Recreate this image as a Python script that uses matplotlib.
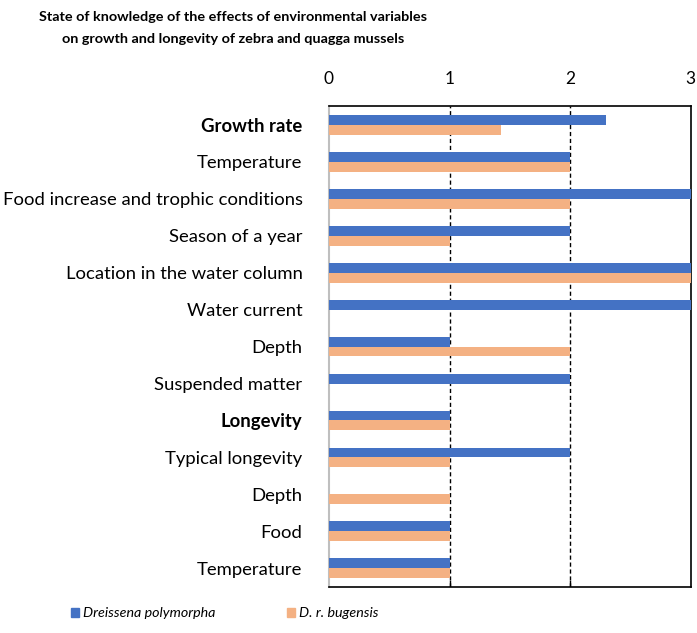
import matplotlib
matplotlib.use("Agg")
import matplotlib.pyplot as plt
from matplotlib.patches import Patch

categories = ["Growth rate", "Temperature", "Food increase and trophic conditions",
              "Season of a year", "Location in the water column", "Water current",
              "Depth", "Suspended matter", "Longevity", "Typical longevity",
              "Depth", "Food", "Temperature"]
bold_labels = ["Growth rate", "Longevity"]
polymorpha = [2.3, 2, 3, 2, 3, 3, 1, 2, 1, 2, 0, 1, 1]
bugensis = [1.43, 2, 2, 1, 3, 0, 2, 0, 1, 1, 1, 1, 1]
ticks = [0, 1, 2, 3]
series_names = ["Dreissena polymorpha", "D. r. bugensis"]
colors = ["#4472C4", "#F4B183"]

plt.rcParams['font.family'] = ['Lato', 'DejaVu Sans']

fig = plt.figure(figsize=(6.97, 6.33), dpi=100)
ax = fig.add_axes([0.472, 0.0727, 0.519, 0.7598])

n = len(categories)
y = list(range(n))
h = 0.27
ax.barh([v - h / 2 for v in y], polymorpha, height=h, color=colors[0], zorder=3)
ax.barh([v + h / 2 for v in y], bugensis, height=h, color=colors[1], zorder=3)

ax.set_ylim(n - 0.5, -0.5)
ax.set_xlim(0, 3)
ax.set_yticks(y)
ax.set_yticklabels(categories, fontsize=13.3)
for lbl in ax.get_yticklabels():
    if lbl.get_text() in bold_labels:
        lbl.set_fontweight("bold")
ax.tick_params(axis='y', length=0, pad=19)

ax.xaxis.tick_top()
ax.set_xticks(ticks)
ax.set_xticklabels([str(t) for t in ticks], fontsize=12.5)
ax.tick_params(axis='x', length=0, pad=14)

for t in ticks[1:-1]:
    ax.axvline(t, color="black", linestyle=(0, (3, 2)), linewidth=1, zorder=2)
    ax.plot([t, t], [n - 0.5, n - 0.5 - 0.15], color="black", lw=1, zorder=4)

for s in ["top", "right", "bottom"]:
    ax.spines[s].set_color("black")
    ax.spines[s].set_linewidth(1.2)
ax.spines["left"].set_color("#BFBFBF")
ax.spines["left"].set_linewidth(1.5)

fig.text(0.335, 0.982, "State of knowledge of the effects of environmental variables\non growth and longevity of zebra and quagga mussels",
         ha="center", va="top", fontsize=10.4, fontweight="bold", linespacing=1.95)

handles = [Patch(color=c) for c in colors]
leg = fig.legend(handles, series_names, loc="center left", bbox_to_anchor=(0.083, 0.031),
                 ncol=2, frameon=False, fontsize=10.3, handlelength=0.56, handleheight=0.56,
                 columnspacing=5.0, handletextpad=0.3)
for t in leg.get_texts():
    t.set_fontstyle("italic")

fig.savefig("out.png", dpi=100)
